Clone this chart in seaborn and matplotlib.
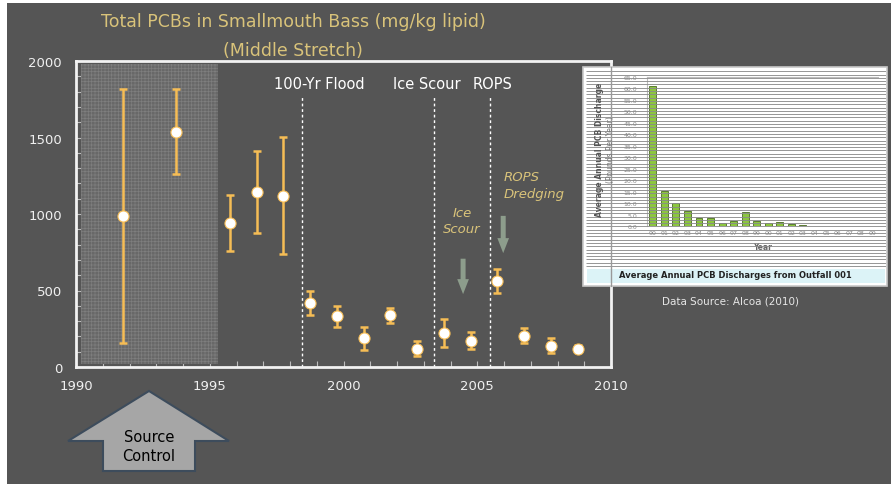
import numpy as np
import pandas as pd
import seaborn as sns
import matplotlib
matplotlib.use("Agg")
import matplotlib.pyplot as plt
from matplotlib.patches import Rectangle, Polygon
from matplotlib.lines import Line2D

# fish data
years = [1991.75, 1993.75, 1995.75, 1996.75, 1997.75, 1998.75, 1999.75, 2000.75,
         2001.75, 2002.75, 2003.75, 2004.75, 2005.75, 2006.75, 2007.75, 2008.75]
pcb = [985, 1538, 938, 1143, 1117, 418, 331, 188, 337, 120, 223, 171, 561, 204, 138, 118]
pcb_low = [158, 1260, 760, 878, 736, 342, 263, 114, 289, 70, 131, 118, 484, 158, 92, 95]
pcb_high = [1814, 1820, 1122, 1413, 1505, 497, 399, 263, 386, 173, 313, 228, 642, 252, 188, 147]

events = [1998.44, 2003.4, 2005.49]
event_labels = ["100-Yr Flood", "Ice Scour", "ROPS"]
event_label_x = [1999.08, 2003.12, 2005.59]

# inset: outfall discharges
outfall_years = ["90", "91", "92", "93", "94", "95", "96", "97", "98", "99",
                 "00", "01", "02", "03", "04", "05", "06", "07", "08", "09"]
outfall_vals = [61.2, 15.2, 10.0, 6.7, 3.4, 3.4, 1.1, 2.1, 6.3, 2.1,
                1.1, 1.7, 0.9, 0.5, 0, 0, 0, 0, 0, 0]

BG = "#555555"
GOLD = "#d9c37a"
ORANGE = "#f6bd55"
W, H = 891, 485

sns.set_theme(style="dark", rc={"axes.facecolor": BG, "figure.facecolor": "white",
                                "hatch.linewidth": 0.5})
plt.rcParams["font.family"] = ["DejaVu Sans"]

fig = plt.figure(figsize=(8.91, 4.85), dpi=100)
fig.patches.append(Rectangle((7 / W, 0), 884 / W, 481 / H, transform=fig.transFigure,
                             facecolor=BG, edgecolor="none", zorder=-1))


def fx(px):
    return px / W


def fy(py):
    return 1 - py / H


ax = fig.add_axes([fx(76), fy(368), fx(611) - fx(76), fy(62) - fy(368)])
ax.set_facecolor(BG)
ax.set_xlim(1990, 2010)
ax.set_ylim(0, 2000)

ax.axvspan(1990.2, 1995.3, ymin=0.01, ymax=0.99, facecolor="#686868",
           edgecolor="#7e7e7e", hatch="+++++", linewidth=0, zorder=1)

for xv in events:
    ax.plot([xv, xv], [0, 1765], color="white", ls=(0, (2, 2)), lw=1, zorder=2)
for lab, xv in zip(event_labels, event_label_x):
    ax.text(xv, 1856, lab, color="white", fontsize=10.5, ha="center", va="center")

df = pd.DataFrame({"year": years, "pcb": pcb, "lo": pcb_low, "hi": pcb_high})
ax.errorbar(df["year"], df["pcb"], yerr=[df["pcb"] - df["lo"], df["hi"] - df["pcb"]],
            fmt="none", ecolor=ORANGE, elinewidth=1.8, capsize=2.8, capthick=1.8, zorder=3)
sns.scatterplot(data=df, x="year", y="pcb", ax=ax, s=64, color="white",
                edgecolor=ORANGE, linewidth=0.8, zorder=4)

ax.text(2004.43, 1013, "Ice", color=GOLD, fontsize=9.5, style="italic", ha="center", va="center")
ax.text(2004.43, 902, "Scour", color=GOLD, fontsize=9.5, style="italic", ha="center", va="center")
ax.text(2006.0, 1248, "ROPS", color=GOLD, fontsize=9.5, style="italic", ha="left", va="center")
ax.text(2006.0, 1137, "Dredging", color=GOLD, fontsize=9.5, style="italic", ha="left", va="center")
for xa, ytop, ytip in [(2004.47, 726, 458), (2005.97, 1006, 726)]:
    ax.annotate("", xy=(xa, ytip), xytext=(xa, ytop),
                arrowprops=dict(arrowstyle="simple,head_length=0.9,head_width=0.7,tail_width=0.3",
                                color="#8d9d8c", lw=0))

ax.set_xlabel("")
ax.set_ylabel("")
ax.set_xticks([1990, 1995, 2000, 2005, 2010])
ax.set_yticks([0, 500, 1000, 1500, 2000])
ax.set_xticks(np.arange(1990, 2011, 1), minor=True)
ax.set_yticks(np.arange(0, 2001, 100), minor=True)
ax.tick_params(axis="both", which="both", direction="in", length=4, width=0.8,
               color="#bdbdbd", labelcolor="#f0f0f0", labelsize=9.5)
ax.tick_params(axis="x", which="major", pad=9, bottom=True)
ax.tick_params(axis="y", which="major", pad=10, left=True)
ax.tick_params(axis="both", which="minor", bottom=True, left=True)
ax.grid(False)
for sp in ax.spines.values():
    sp.set_visible(True)
    sp.set_color("#f2f2f2")
    sp.set_linewidth(2)

fig.text(fx(293), fy(22), "Total PCBs in Smallmouth Bass (mg/kg lipid)", color=GOLD,
         fontsize=12.5, ha="center", va="center")
fig.text(fx(293), fy(51), "(Middle Stretch)", color=GOLD, fontsize=12.5, ha="center", va="center")

# inset panel
fig.patches.append(Rectangle((fx(583), fy(287)), fx(887) - fx(583), fy(68) - fy(287),
                             transform=fig.transFigure, facecolor="white",
                             edgecolor="#c8c8c8", lw=1.2, zorder=5))
fig.patches.append(Rectangle((fx(587), fy(284)), fx(885) - fx(587), fy(270) - fy(284),
                             transform=fig.transFigure, facecolor="#dcf3f7",
                             edgecolor="none", zorder=5.5))
fig.text(fx(735), fy(276), "Average Annual PCB Discharges from Outfall 001", fontsize=6,
         fontweight="bold", color="#222222", ha="center", va="center", zorder=9)

iax = fig.add_axes([fx(647), fy(227), fx(878) - fx(647), fy(78) - fy(227)], zorder=6)
iax.set_facecolor("white")
ins = pd.DataFrame({"yr": outfall_years, "val": outfall_vals})
sns.barplot(data=ins, x="yr", y="val", ax=iax, color="#8cc63f", edgecolor="#4b6b22",
            linewidth=0.6, width=0.6, saturation=1)
iax.set_ylim(0, 65)
iax.set_xlim(-0.5, 19.5)
iax.set_yticks(np.arange(0, 66, 5))
iax.set_yticklabels([f"{v:.1f}" for v in np.arange(0, 66, 5)])
iax.tick_params(axis="both", length=0, labelsize=4.5, labelcolor="#8a8a8a", pad=3)
iax.tick_params(axis="y", pad=7)
iax.set_xlabel("Year", fontsize=5.5, fontweight="bold", color="#666666", labelpad=5)
iax.set_ylabel("")
iax.grid(False)
for sp in iax.spines.values():
    sp.set_visible(False)
iax.spines["left"].set_visible(True)
iax.spines["left"].set_color("#bbbbbb")
iax.spines["left"].set_linewidth(0.8)
iax.spines["top"].set_visible(True)
iax.spines["top"].set_color("#bbbbbb")
iax.spines["top"].set_linewidth(0.8)
fig.text(fx(599), fy(150), "Average Annual PCB Discharge", rotation=90, fontsize=5.5,
         fontweight="bold", color="#555555", ha="center", va="center", zorder=9)
fig.text(fx(610), fy(150), "(Pounds Per Year)", rotation=90, fontsize=5.5,
         color="#777777", ha="center", va="center", zorder=9)

# scan-line stripes across the pasted inset
sax = fig.add_axes([fx(586), fy(268), fx(886) - fx(586), fy(70) - fy(268)], zorder=8)
sax.set_xlim(0, 1)
sax.set_ylim(0, 198)
sax.hlines(np.arange(1, 198, 3.3), 0, 1, color="#8a8a8a", lw=0.7, alpha=0.9)
sax.axis("off")
sax.patch.set_alpha(0)

fig.lines.append(Line2D([fx(611), fx(611)], [fy(287), fy(68)], transform=fig.transFigure,
                        color="#999999", lw=1, zorder=9))

fig.text(fx(731), fy(301), "Data Source: Alcoa (2010)", fontsize=7.5, color="#e6e6e6",
         ha="center", va="center")

# Source Control arrow
arrow_pts = [(149, 392), (229, 442), (195, 442), (195, 472), (103, 472), (103, 442), (68, 442)]
fig.patches.append(Polygon([(fx(px), fy(py)) for px, py in arrow_pts], closed=True,
                           transform=fig.transFigure, facecolor="#a6a6a6",
                           edgecolor="#3d4c5c", lw=1.5, zorder=3))
fig.text(fx(149), fy(438), "Source", fontsize=10.5, color="black", ha="center", va="center")
fig.text(fx(149), fy(457), "Control", fontsize=10.5, color="black", ha="center", va="center")

fig.savefig("out.png", dpi=100)
